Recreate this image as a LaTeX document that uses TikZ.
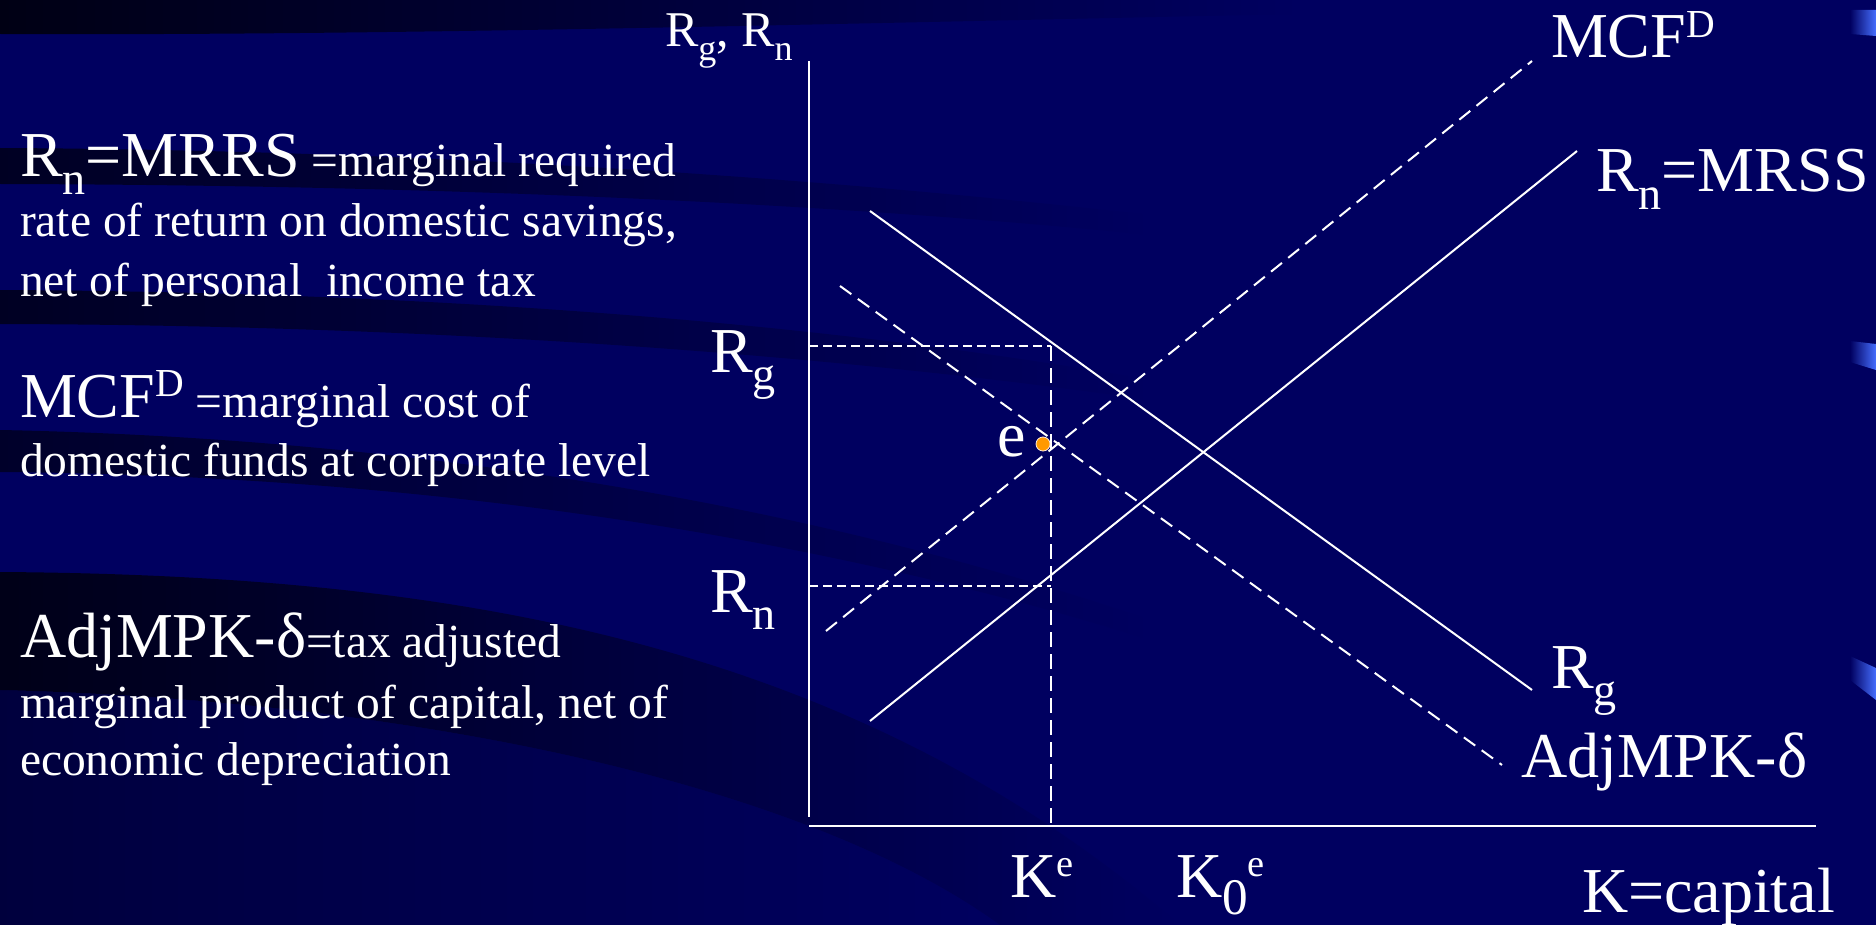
\documentclass[tikz,border=0pt]{standalone}
\usepackage{fontspec}
\setmainfont{Liberation Serif}
\usetikzlibrary{calc}
\definecolor{bgnavy}{RGB}{0,0,96}
\definecolor{bandblack}{RGB}{0,0,20}
\definecolor{dotorange}{RGB}{255,153,0}
\definecolor{wedgeblue}{RGB}{70,110,255}
\newcommand\lsub[2][0.72]{\raisebox{-0.28em}{\scalebox{#1}{#2}}}
\newcommand\lsup[2][0.62]{\raisebox{0.32em}{\scalebox{#1}{#2}}}
\newcommand\bigf{\fontsize{64}{72}\selectfont}
\newcommand\smallf{\fontsize{47.5}{56}\selectfont}
\newcommand\labf{\fontsize{64}{72}\selectfont}
\tikzset{
  txt/.style={inner sep=0pt, outer sep=0pt, anchor=base west, text=white},
  axisline/.style={draw=white, line width=2.6pt},
  curve/.style={draw=white, line width=2pt},
  dcurve/.style={draw=white, line width=2pt, dash pattern=on 14pt off 8pt},
  guide/.style={draw=white, line width=2pt, dash pattern=on 9pt off 5pt},
  vguide/.style={draw=white, line width=2pt, dash pattern=on 15pt off 7pt},
}
\begin{document}
\begin{tikzpicture}[x=1pt,y=-1pt]
\useasboundingbox (0,0) rectangle (1876,925);
% background
\fill[bgnavy] (0,0) rectangle (1876,925);
\shade[left color=bandblack, right color=bgnavy] (0,0) -- (1300,0) -- (1300,14) .. controls (900,22) and (400,36) .. (0,34) -- cycle;
\shade[left color=bandblack, right color=bgnavy, opacity=0.8] (0,148) .. controls (400,150) and (800,175) .. (1150,215) -- (1150,235) .. controls (800,200) and (400,185) .. (0,184) -- cycle;
\shade[left color=bandblack, right color=bgnavy, opacity=0.8] (0,290) .. controls (400,292) and (800,318) .. (1150,380) -- (1150,400) .. controls (800,350) and (400,325) .. (0,324) -- cycle;
\shade[left color=bandblack, right color=bgnavy, opacity=0.7] (0,430) .. controls (400,438) and (800,500) .. (1150,620) -- (1150,640) .. controls (800,530) and (400,475) .. (0,472) -- cycle;
\shade[left color=black, right color=bgnavy, opacity=0.75] (0,572) .. controls (450,575) and (850,640) .. (1180,925) -- (1000,925) .. controls (800,780) and (400,700) .. (0,690) -- cycle;
\shade[left color=bandblack, right color=bgnavy, opacity=0.45] (0,690) .. controls (400,700) and (800,780) .. (1000,925) -- (0,925) -- cycle;
% right-edge wedges
\shade[left color=bgnavy, right color=wedgeblue] (1850,10) -- (1876,10) -- (1876,36) -- (1850,34) -- cycle;
\shade[left color=bgnavy, right color=wedgeblue] (1850,341) -- (1876,344) -- (1876,370) -- (1850,362) -- cycle;
\shade[left color=bgnavy, right color=wedgeblue] (1850,656) -- (1876,668) -- (1876,700) -- (1850,680) -- cycle;

% left explanatory text
\node[txt] (t1) at (20,177) {\bigf R\lsub{n}=MRRS\smallf{} =marginal required};
\node[txt] (t2) at (20,237) {\smallf rate of return on domestic savings,};
\node[txt] (t3) at (20,296) {\smallf net of personal\ \ income tax};
\node[txt] (t4) at (20,417) {\bigf MCF\lsup{D}\smallf{} =marginal cost of};
\node[txt] (t5) at (20,476) {\smallf domestic funds at corporate level};
\node[txt] (t6) at (20,657) {\bigf AdjMPK-δ\smallf=tax adjusted};
\node[txt] (t7) at (20,718) {\smallf marginal product of capital, net of};
\node[txt] (t8) at (20,775) {\smallf economic depreciation};

% axes
\coordinate (ytop) at (809,61);
\coordinate (ybot) at (809,817);
\coordinate (xl) at (809,826);
\coordinate (xr) at (1816,826);
\draw[axisline] (ytop) -- (ybot);
\draw[axisline] (xl) -- (xr);

% curves
\coordinate (rgA) at (870,211);
\coordinate (rgB) at (1532,690);
\coordinate (adjA) at (840,286);
\coordinate (adjB) at (1502,765);
\coordinate (mcfA) at (826,631);
\coordinate (mcfB) at (1532,61);
\coordinate (rnA) at (870,721);
\coordinate (rnB) at (1577,151);
\draw[curve] (rgA) -- (rgB);
\draw[dcurve] (adjA) -- (adjB);
\draw[dcurve] (mcfA) -- (mcfB);
\draw[curve] (rnA) -- (rnB);

% guides
\coordinate (gRg) at (809,346);
\coordinate (gRn) at (809,586);
\coordinate (cRg) at (1051,346);
\coordinate (cRn) at (1051,586);
\coordinate (cK) at (1051,826);
\draw[guide] (gRg) -- (cRg);
\draw[guide] (gRn) -- (cRn);
\draw[vguide] (cRg) -- (cK);

% equilibrium point
\node[circle, fill=dotorange, draw=white!85!orange, line width=0.8pt, minimum size=14pt, inner sep=0pt] (edot) at (1043,444) {};
\node[txt] (elab) at (997,456) {\labf e};

% axis labels
\node[txt] (ylab) at (665,47) {\fontsize{50}{58}\selectfont R\lsub{g}, R\lsub{n}};
\node[txt] (rgax) at (710,372) {\labf R\lsub{g}};
\node[txt] (rnax) at (710,612) {\labf R\lsub{n}};
\node[txt] (ke) at (1010,897) {\labf K\lsup[0.6]{e}};
\node[txt] (k0e) at (1176,897) {\labf K\lsub[0.8]{0}\lsup[0.6]{e}};
\node[txt] (kcap) at (1582,912) {\labf K=capital};

% curve labels
\node[txt] (mcflab) at (1551,58) {\labf MCF\lsup{D}};
\node[txt] (rnlab) at (1596,192) {\labf R\lsub{n}=MRSS};
\node[txt] (rglab) at (1551,688) {\labf R\lsub{g}};
\node[txt] (adjlab) at (1521,777) {\labf AdjMPK-δ};
\end{tikzpicture}
\end{document}
